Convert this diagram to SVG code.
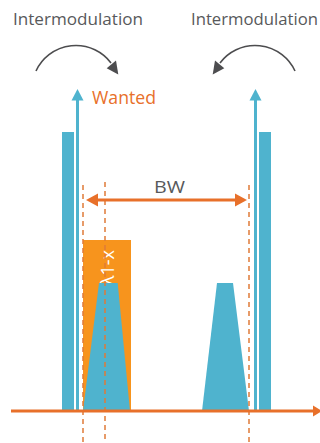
<svg xmlns="http://www.w3.org/2000/svg" width="320" height="443" viewBox="0 0 320 443">
<style>
.blue{fill:#4FB3CE}
.bl{stroke:#4FB3CE;stroke-width:3;fill:none}
.dash{stroke:#E07B39;stroke-width:1.5;stroke-dasharray:5 4;fill:none}
.lbl{font-family:"Open Sans","Liberation Sans",sans-serif;font-size:17px;fill:#58595B}
.curve{stroke:#4D4D4F;stroke-width:1.6;fill:none}
</style>
<rect width="320" height="443" fill="#fff"/>
<g id="labels">
<text class="lbl" x="13" y="24.5" textLength="130" lengthAdjust="spacingAndGlyphs">Intermodulation</text>
<text class="lbl" x="191" y="24.5" textLength="127" lengthAdjust="spacingAndGlyphs">Intermodulation</text>
</g>
<g id="curve-left">
<path class="curve" d="M36,71 A44,44 0 0 1 111,63"/>
<polygon points="106.7,68.3 116,60.5 118.3,74.5" fill="#4D4D4F"/>
</g>
<g id="curve-right">
<path class="curve" d="M295,71 A44,44 0 0 0 220,63"/>
<polygon points="224.3,68.3 215,60.5 212.7,74.5" fill="#4D4D4F"/>
</g>
<g id="bar-left"><rect class="blue" x="62" y="132" width="12" height="279"/></g>
<g id="bar-right"><rect class="blue" x="259" y="132" width="12" height="279"/></g>
<g id="carrier-left">
<line class="bl" x1="77.5" y1="98" x2="77.5" y2="411"/>
<polygon class="blue" points="77.5,89 71.5,100.5 83.5,100.5"/>
</g>
<g id="carrier-right">
<line class="bl" x1="255.5" y1="98" x2="255.5" y2="411"/>
<polygon class="blue" points="255.5,89 249.5,100.5 261.5,100.5"/>
</g>
<g id="wanted">
<rect x="83" y="240" width="48" height="171" fill="#F7941D"/>
<text transform="translate(113.5,250) rotate(-90)" text-anchor="end" font-family="Open Sans, Liberation Sans, sans-serif" font-size="18" fill="#fff">λ1-x</text>
<polygon class="blue" points="99,283 117.7,283 130,411 83,411"/>
<text x="92" y="104" font-family="Open Sans, Liberation Sans, sans-serif" font-size="18" fill="#E8702A" textLength="64" lengthAdjust="spacingAndGlyphs">Wanted</text>
</g>
<g id="signal-right">
<polygon class="blue" points="217,283 233,283 249,411 202,411"/>
</g>
<g id="connectors">
<line class="dash" x1="83" y1="185" x2="83" y2="443"/>
<line class="dash" x1="105" y1="182" x2="105" y2="443"/>
<line class="dash" x1="249" y1="185" x2="249" y2="443"/>
<line x1="96" y1="200" x2="237" y2="200" stroke="#E8702A" stroke-width="3"/>
<polygon points="86,200 98,193.5 98,206.5" fill="#E8702A"/>
<polygon points="247,200 235,193.5 235,206.5" fill="#E8702A"/>
<line x1="11" y1="411" x2="314" y2="411" stroke="#E8702A" stroke-width="3"/>
<polygon points="322,411 313,405.5 313,416.5" fill="#E8702A"/>
</g>
<g id="bw"><text class="lbl" x="169.5" y="193" text-anchor="middle" font-size="18" textLength="31" lengthAdjust="spacingAndGlyphs">BW</text></g>
</svg>
